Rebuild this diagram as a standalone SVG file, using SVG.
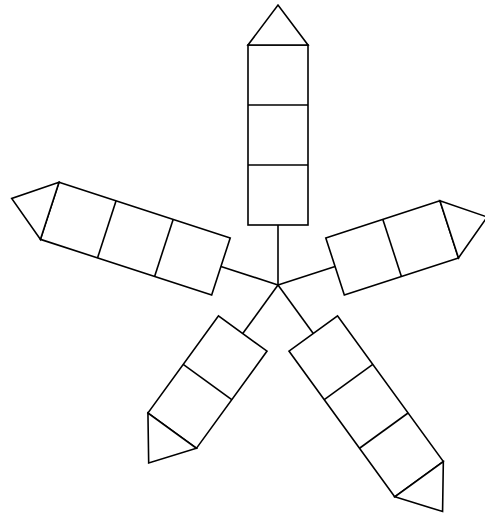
<svg xmlns="http://www.w3.org/2000/svg" width="485" height="513" viewBox="0 0 485 513">
  <style>
    .s { fill: #ffffff; stroke: #000000; stroke-width: 1.6; stroke-linejoin: miter; }
    .c { fill: none; stroke: #000000; stroke-width: 1.6; }
  </style>
  <defs>
    <g id="arm3">
      <rect class="s" x="-30" y="-240" width="60" height="180"/>
      <line class="c" x1="-30" y1="-120" x2="30" y2="-120"/>
      <line class="c" x1="-30" y1="-180" x2="30" y2="-180"/>
      <polygon class="s" points="-30,-240 30,-240 0,-280"/>
    </g>
    <g id="arm2">
      <rect class="s" x="-30" y="-180" width="60" height="120"/>
      <line class="c" x1="-30" y1="-120" x2="30" y2="-120"/>
      <polygon class="s" points="-30,-180 30,-180 0,-220"/>
    </g>
  </defs>
  <g id="connectors" transform="translate(278,285)">
    <line class="c" x1="0" y1="0" x2="0" y2="-60"/>
    <line class="c" x1="0" y1="0" x2="0" y2="-60" transform="rotate(72)"/>
    <line class="c" x1="0" y1="0" x2="0" y2="-60" transform="rotate(144)"/>
    <line class="c" x1="0" y1="0" x2="0" y2="-60" transform="rotate(216)"/>
    <line class="c" x1="0" y1="0" x2="0" y2="-60" transform="rotate(288)"/>
  </g>
  <g id="arm-top" transform="translate(278,285)"><use href="#arm3"/></g>
  <g id="arm-right" transform="translate(278,285) rotate(72)"><use href="#arm2"/></g>
  <g id="arm-bottom-right" transform="translate(278,285) rotate(144)"><use href="#arm3"/></g>
  <g id="arm-bottom-left" transform="translate(278,285) rotate(216)"><use href="#arm2"/></g>
  <g id="arm-left" transform="translate(278,285) rotate(288)"><use href="#arm3"/></g>
</svg>
